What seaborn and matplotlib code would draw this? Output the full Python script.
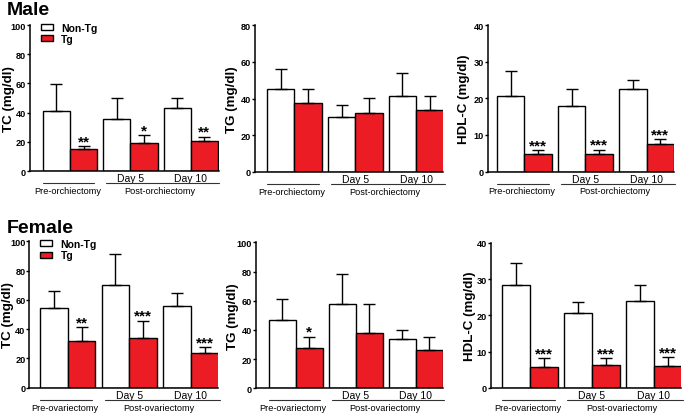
import numpy as np
import pandas as pd
import matplotlib
matplotlib.use("Agg")
import matplotlib.pyplot as plt
import matplotlib.transforms as mtransforms
import seaborn as sns

# ---------------- data ----------------
groups = ["Pre", "Day 5", "Day 10"]
tick_labels = ["", "Day 5", "Day 10"]
genotypes = ["Non-Tg", "Tg"]

male_tc_nontg = [41.0, 35.5, 43.0]
male_tc_nontg_err = [18.5, 14.3, 6.8]
male_tc_tg = [14.8, 19.0, 20.7]
male_tc_tg_err = [2.2, 5.8, 2.9]
male_tc_stars = ["**", "*", "**"]

male_tg_nontg = [44.9, 29.7, 41.6]
male_tg_nontg_err = [11.0, 6.9, 12.3]
male_tg_tg = [37.3, 31.9, 33.5]
male_tg_tg_err = [7.8, 8.5, 8.1]
male_tg_stars = ["", "", ""]

male_hdl_nontg = [20.6, 17.8, 22.5]
male_hdl_nontg_err = [6.8, 4.6, 2.4]
male_hdl_tg = [4.85, 4.8, 7.6]
male_hdl_tg_err = [1.05, 1.2, 1.2]
male_hdl_stars = ["***", "***", "***"]

female_tc_nontg = [54.4, 70.4, 56.0]
female_tc_nontg_err = [11.9, 20.7, 8.7]
female_tc_tg = [32.1, 34.2, 23.9]
female_tc_tg_err = [9.4, 11.6, 4.1]
female_tc_stars = ["**", "***", "***"]

female_tg_nontg = [47.0, 57.5, 34.0]
female_tg_nontg_err = [14.4, 20.8, 5.7]
female_tg_tg = [27.9, 38.1, 26.0]
female_tg_tg_err = [7.5, 19.7, 9.4]
female_tg_stars = ["*", "", ""]

female_hdl_nontg = [28.4, 20.7, 24.1]
female_hdl_nontg_err = [6.0, 3.1, 4.3]
female_hdl_tg = [5.7, 6.2, 6.0]
female_hdl_tg_err = [2.6, 2.1, 2.5]
female_hdl_stars = ["***", "***", "***"]

RED = "#EC1C24"

sns.set_style("ticks")
plt.rcParams["font.family"] = ["Liberation Sans", "DejaVu Sans"]
for key in ("text.color", "axes.labelcolor", "xtick.color", "ytick.color", "axes.edgecolor"):
    plt.rcParams[key] = "black"

W, H = 685, 414
fig = plt.figure(figsize=(W / 100, H / 100), dpi=100)

panels = [
    dict(box=(30, 218.5, 26, 172), xlim=(-0.664, 2.46), ymax=100, ystep=20, ylabel="TC (mg/dl)",
         a=male_tc_nontg, ae=male_tc_nontg_err, b=male_tc_tg, be=male_tc_tg_err, stars=male_tc_stars,
         legend=True, surg="orchiectomy", lab=14.8),
    dict(box=(255, 443, 26, 173), xlim=(-0.645, 2.44), ymax=80, ystep=20, ylabel="TG (mg/dl)",
         a=male_tg_nontg, ae=male_tg_nontg_err, b=male_tg_tg, be=male_tg_tg_err, stars=male_tg_stars,
         legend=False, surg="orchiectomy", lab=16.5),
    dict(box=(488, 673.5, 26, 172.5), xlim=(-0.593, 2.44), ymax=40, ystep=10, ylabel="HDL-C (mg/dl)",
         a=male_hdl_nontg, ae=male_hdl_nontg_err, b=male_hdl_tg, be=male_hdl_tg_err, stars=male_hdl_stars,
         legend=False, surg="orchiectomy", lab=18),
    dict(box=(29.3, 218, 242.3, 388.7), xlim=(-0.624, 2.44), ymax=100, ystep=20, ylabel="TC (mg/dl)",
         a=female_tc_nontg, ae=female_tc_nontg_err, b=female_tc_tg, be=female_tc_tg_err, stars=female_tc_stars,
         legend=True, surg="ovariectomy", lab=15.0),
    dict(box=(256, 443, 243.3, 389.3), xlim=(-0.66, 2.45), ymax=100, ystep=20, ylabel="TG (mg/dl)",
         a=female_tg_nontg, ae=female_tg_nontg_err, b=female_tg_tg, be=female_tg_tg_err, stars=female_tg_stars,
         legend=False, surg="ovariectomy", lab=16.7),
    dict(box=(491, 681, 244, 388.7), xlim=(-0.63, 2.44), ymax=40, ystep=10, ylabel="HDL-C (mg/dl)",
         a=female_hdl_nontg, ae=female_hdl_nontg_err, b=female_hdl_tg, be=female_hdl_tg_err, stars=female_hdl_stars,
         legend=False, surg="ovariectomy", lab=14.5),
]

for p in panels:
    l, r, t, b = p["box"]
    ax = fig.add_axes([l / W, 1 - b / H, (r - l) / W, (b - t) / H])
    df = pd.DataFrame({
        "group": groups * 2,
        "genotype": [genotypes[0]] * 3 + [genotypes[1]] * 3,
        "value": list(p["a"]) + list(p["b"]),
    })
    sns.barplot(data=df, x="group", y="value", hue="genotype", order=groups, hue_order=genotypes,
                palette={"Non-Tg": "white", "Tg": RED}, saturation=1, width=0.9,
                edgecolor="black", linewidth=1.0, errorbar=None, legend=p["legend"], ax=ax)
    # error bars (upper only)
    for cont, errs in zip(ax.containers, [p["ae"], p["be"]]):
        xs = [bar.get_x() + bar.get_width() / 2 for bar in cont]
        hs = [bar.get_height() for bar in cont]
        ax.errorbar(xs, hs, yerr=[np.zeros(len(errs)), errs], fmt="none", ecolor="black",
                    elinewidth=1.0, capsize=4.5, capthick=1.0, zorder=1)
    # stars
    cont = ax.containers[1]
    for bar, e, s in zip(cont, p["be"], p["stars"]):
        if s:
            ax.annotate(s, xy=(bar.get_x() + bar.get_width() / 2, bar.get_height() + e),
                        xytext=(0, 0.5), textcoords="offset points", ha="center", va="baseline",
                        fontsize=11, fontweight="bold")
    ax.set_xlim(*p["xlim"])
    ax.set_ylim(0, p["ymax"])
    ax.set_yticks(np.arange(0, p["ymax"] + 1, p["ystep"]))
    ax.set_xticks(range(len(groups)))
    ax.set_xticklabels(tick_labels)
    ax.tick_params(axis="x", length=0, pad=1.5, labelsize=7.5)
    ax.tick_params(axis="y", direction="out", length=2.0, width=1.0, pad=0.8, labelsize=6.6)
    for lab in ax.get_yticklabels():
        lab.set_fontweight("bold")
    ax.set_xlabel("")
    ax.set_ylabel(p["ylabel"], fontsize=9.6, fontweight="bold")
    ax.yaxis.set_label_coords(-p["lab"] / (r - l), 0.5)
    sns.despine(ax=ax)
    for sp in ("left", "bottom"):
        ax.spines[sp].set_linewidth(1.1)
    ax.set_facecolor("white")
    # surgery group brackets
    trans = mtransforms.blended_transform_factory(ax.transData, ax.transAxes)
    ly = -12 / (b - t)
    ty = -19.5 / (b - t)
    ax.plot([-0.45, 0.4], [ly, ly], transform=trans, color="#333333", lw=0.8, clip_on=False)
    ax.plot([0.6, 2.47], [ly, ly], transform=trans, color="#333333", lw=0.8, clip_on=False)
    ax.text(-0.04, ty, "Pre-" + p["surg"], transform=trans, ha="center", va="center", fontsize=6.6)
    ax.text(1.48, ty, "Post-" + p["surg"], transform=trans, ha="center", va="center", fontsize=6.6)
    if p["legend"]:
        sns.move_legend(ax, "upper left", bbox_to_anchor=(11 / (r - l), 1 + 2.5 / (b - t)),
                        frameon=False, title=None, borderpad=0, borderaxespad=0,
                        handlelength=1.15, handleheight=0.5, handletextpad=0.8, labelspacing=0.15,
                        prop={"weight": "bold", "size": 7.5})

fig.text(7 / W, 1 - 15 / H, "Male", fontsize=14, fontweight="bold", ha="left", va="baseline")
fig.text(7 / W, 1 - 233 / H, "Female", fontsize=14, fontweight="bold", ha="left", va="baseline")

fig.savefig("out.png", dpi=100, facecolor="white")
